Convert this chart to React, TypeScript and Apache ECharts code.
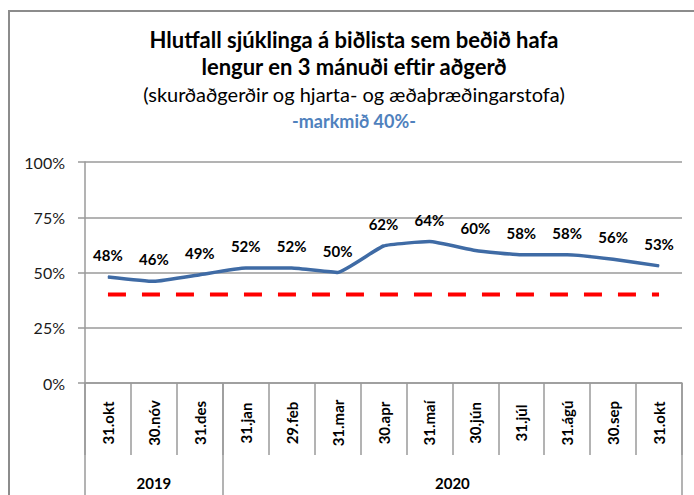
import React, { useEffect, useRef } from "react";
import * as echarts from "echarts";

const categories = ["31.okt", "30.nóv", "31.des", "31.jan", "29.feb", "31.mar", "30.apr", "31.maí", "30.jún", "31.júl", "31.ágú", "30.sep", "31.okt"];
const shareWaiting = [48, 46, 49, 52, 52, 50, 62, 64, 60, 58, 58, 56, 53];
const target = [40, 40, 40, 40, 40, 40, 40, 40, 40, 40, 40, 40, 40];
const years = ["2019", "2020"];
const yearSpans = [3, 10];

const FONT = "Lato, 'Noto Sans', sans-serif";

export default function App() {
  const ref = useRef<HTMLDivElement>(null);
  useEffect(() => {
    if (!ref.current) return;
    const chart = echarts.init(ref.current, undefined, { renderer: "svg" });

    const bounds: number[] = [0];
    const centers: number[] = [];
    let acc = 0;
    yearSpans.forEach((s) => {
      centers.push(acc + s / 2);
      acc += s;
      bounds.push(acc);
    });

    const gray = "#9a9a9a";
    chart.setOption({
      animation: false,
      textStyle: { fontFamily: FONT },
      title: {
        left: 349,
        top: 21,
        textAlign: "center",
        text:
          "{a|Hlutfall sjúklinga á biðlista sem beðið hafa}\n{a|lengur en 3 mánuði eftir aðgerð}\n{b|(skurðaðgerðir og hjarta- og æðaþræðingarstofa)}\n{c|-markmið 40%-}",
        textStyle: {
          fontWeight: "normal",
          rich: {
            a: { fontFamily: FONT, fontSize: 22, fontWeight: "bold", color: "#000", lineHeight: 27 },
            b: { fontFamily: FONT, fontSize: 20, fontWeight: "normal", color: "#000", lineHeight: 27 },
            c: { fontFamily: FONT, fontSize: 18, fontWeight: "bold", color: "#4F81BD", lineHeight: 27 },
          },
        },
      },
      graphic: [
        {
          type: "rect",
          shape: { x: 9, y: 11, width: 720, height: 520 },
          style: { fill: "none", stroke: "#8c8c8c", lineWidth: 2 },
          silent: true,
        },
      ],
      grid: { left: 85, right: 12, top: 162, bottom: 112 },
      xAxis: [
        {
          type: "category",
          data: categories,
          boundaryGap: true,
          axisLine: { lineStyle: { color: gray, width: 1.5 } },
          axisTick: { show: true, interval: 0, length: 72, lineStyle: { color: gray, width: 1.5 } },
          axisLabel: {
            interval: 0,
            rotate: 90,
            align: "center",
            verticalAlign: "middle",
            margin: 40,
            fontFamily: FONT,
            fontSize: 15,
            fontWeight: "bold",
            color: "#000",
          },
        },
        {
          type: "value",
          position: "bottom",
          min: 0,
          max: acc,
          axisLine: { show: false },
          splitLine: { show: false },
          axisTick: { show: true, customValues: bounds, length: 112, lineStyle: { color: gray, width: 1.5 } },
          axisLabel: {
            customValues: centers,
            margin: 92,
            fontFamily: FONT,
            fontSize: 15,
            fontWeight: "bold",
            color: "#000",
            formatter: (v: number) => {
              const i = centers.indexOf(v);
              return i >= 0 ? years[i] : "";
            },
          },
        },
      ],
      yAxis: {
        type: "value",
        min: 0,
        max: 100,
        interval: 25,
        axisLine: { show: true, lineStyle: { color: gray, width: 1.5 } },
        axisTick: { show: true, length: 7, lineStyle: { color: gray, width: 1.5 } },
        splitLine: { lineStyle: { color: gray, width: 1.5 } },
        axisLabel: { formatter: "{value}%", margin: 20, fontFamily: FONT, fontSize: 16, color: "#1a1a1a" },
      },
      series: [
        {
          type: "line",
          data: target,
          symbol: "none",
          lineStyle: { color: "#FF0000", width: 4, type: [18, 16], cap: "butt" },
          z: 2,
        },
        {
          type: "line",
          data: shareWaiting,
          smooth: 0.12,
          symbol: "circle",
          symbolSize: 1,
          itemStyle: { color: "#3F6BA5" },
          lineStyle: { color: "#3F6BA5", width: 3.5 },
          label: {
            show: true,
            position: "top",
            distance: 14,
            formatter: "{c}%",
            fontFamily: FONT,
            fontSize: 15,
            fontWeight: "bold",
            color: "#000",
          },
          z: 3,
        },
      ],
    });
    return () => chart.dispose();
  }, []);
  return <div ref={ref} style={{ position: "absolute", left: 0, top: 0, width: 694, height: 495 }} />;
}
